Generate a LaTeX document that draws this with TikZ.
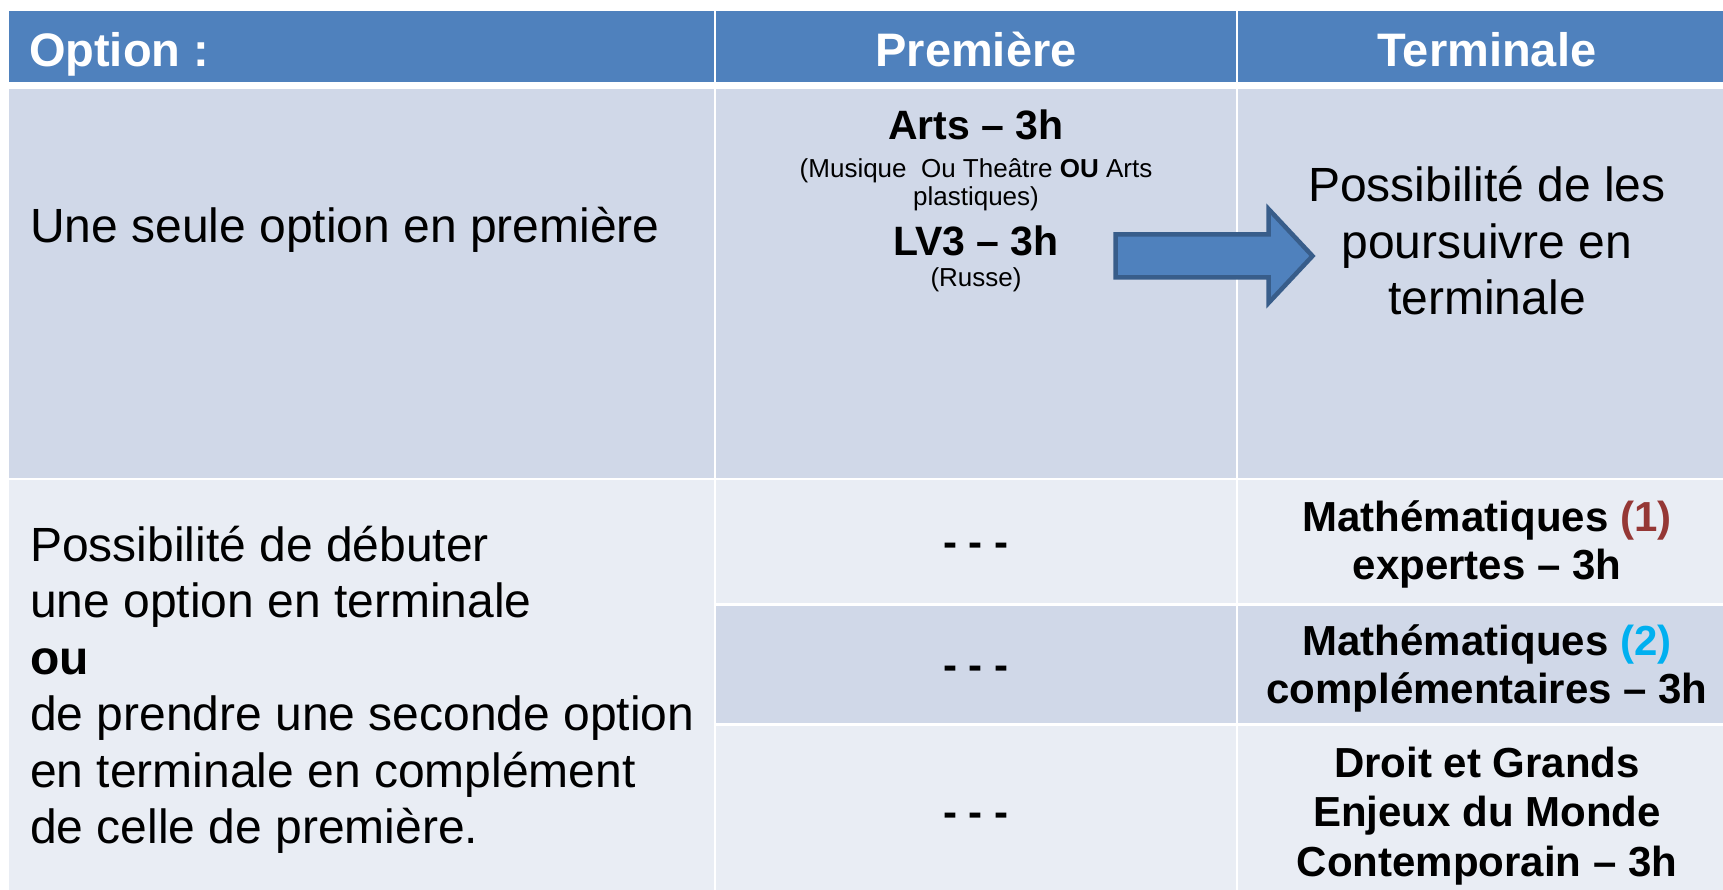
\documentclass[tikz,border=0pt]{standalone}
\usepackage{fontspec}
\setmainfont{Liberation Sans}
\definecolor{hdr}{HTML}{4F81BD}
\definecolor{rowA}{HTML}{D0D8E8}
\definecolor{rowB}{HTML}{E9EDF4}
\definecolor{arrline}{HTML}{385D8A}
\definecolor{redone}{HTML}{953735}
\definecolor{bluetwo}{HTML}{00B0F0}
\begin{document}
\begin{tikzpicture}[x=1pt,y=-1pt,
  txt/.style={inner sep=0pt, outer sep=0pt, anchor=base, text=black},
  hdrtxt/.style={txt, text=white, font=\fontsize{47}{54}\selectfont\bfseries},
  bigtxt/.style={txt, font=\fontsize{48}{56}\selectfont},
  boldtxt/.style={txt, font=\fontsize{42}{48}\selectfont\bfseries},
  midbold/.style={txt, font=\fontsize{41}{47}\selectfont\bfseries},
  smalltxt/.style={txt, font=\fontsize{26}{30}\selectfont},
  sep/.style={white, line width=2.5pt},
  blockarrow/.style={fill=hdr, draw=arrline, line width=4.5pt, line join=miter}]
\useasboundingbox[fill=white] (0,0) rectangle (1723,890);
% cell fills
\fill[hdr] (9,11) rectangle (1723,82.5);
\fill[rowA] (9,89) rectangle (1723,477.5);
\fill[rowB] (9,480) rectangle (1723,890);
\fill[rowA] (715,604.5) rectangle (1723,724.5);
% white separators
\draw[sep] (715,11) -- (715,890);
\draw[sep] (1237,11) -- (1237,890);
\draw[sep] (715,604.5) -- (1723,604.5);
\draw[sep] (715,724.5) -- (1723,724.5);
% header
\node[hdrtxt, anchor=base west] (h1) at (29,67) {Option :};
\node[hdrtxt] (h2) at (976,67) {Première};
\node[hdrtxt] (h3) at (1487,67) {Terminale};
% row 1
\node[bigtxt, anchor=base west] (r1a) at (30,243) {Une seule option en première};
\node[midbold] (arts) at (976,140) {Arts – 3h};
\node[smalltxt] (mus) at (976,178) {(Musique\ \ Ou Theâtre \textbf{OU} Arts};
\node[smalltxt] (plast) at (976,206) {plastiques)};
\node[midbold] (lv3) at (976,256) {LV3 – 3h};
\node[smalltxt] (russe) at (976,287) {(Russe)};
\node[bigtxt] (p1) at (1487,202) {Possibilité de les};
\node[bigtxt] (p2) at (1487,258.5) {poursuivre en};
\node[bigtxt] (p3) at (1487,315) {terminale};
% arrow
\draw[blockarrow] (1115.5,234.5) -- (1268.5,234.5) -- (1268.5,209) -- (1312.5,256)
  -- (1268.5,303) -- (1268.5,277.5) -- (1115.5,277.5) -- cycle;
% row 2 left
\node[bigtxt, anchor=base west] (l1) at (30,561) {Possibilité de débuter};
\node[bigtxt, anchor=base west] (l2) at (30,617.5) {une option en terminale};
\node[bigtxt, anchor=base west] (l3) at (30,674) {\bfseries ou};
\node[bigtxt, anchor=base west] (l4) at (30,730.5) {de prendre une seconde option};
\node[bigtxt, anchor=base west] (l5) at (30,787) {en terminale en complément};
\node[bigtxt, anchor=base west] (l6) at (30,843.5) {de celle de première.};
% row 2 middle
\node[boldtxt] (d1) at (976,556) {- - -};
\node[boldtxt] (d2) at (976,679) {- - -};
\node[boldtxt] (d3) at (976,826) {- - -};
% row 2 right
\node[boldtxt] (m1) at (1487,531) {Mathématiques \textcolor{redone}{(1)}};
\node[boldtxt] (m1b) at (1487,579) {expertes – 3h};
\node[boldtxt] (m2) at (1487,655) {Mathématiques \textcolor{bluetwo}{(2)}};
\node[boldtxt] (m2b) at (1487,703) {complémentaires – 3h};
\node[boldtxt] (g1) at (1487,777) {Droit et Grands};
\node[boldtxt] (g2) at (1487,826) {Enjeux du Monde};
\node[boldtxt] (g3) at (1487,876) {Contemporain – 3h};
\end{tikzpicture}
\end{document}
